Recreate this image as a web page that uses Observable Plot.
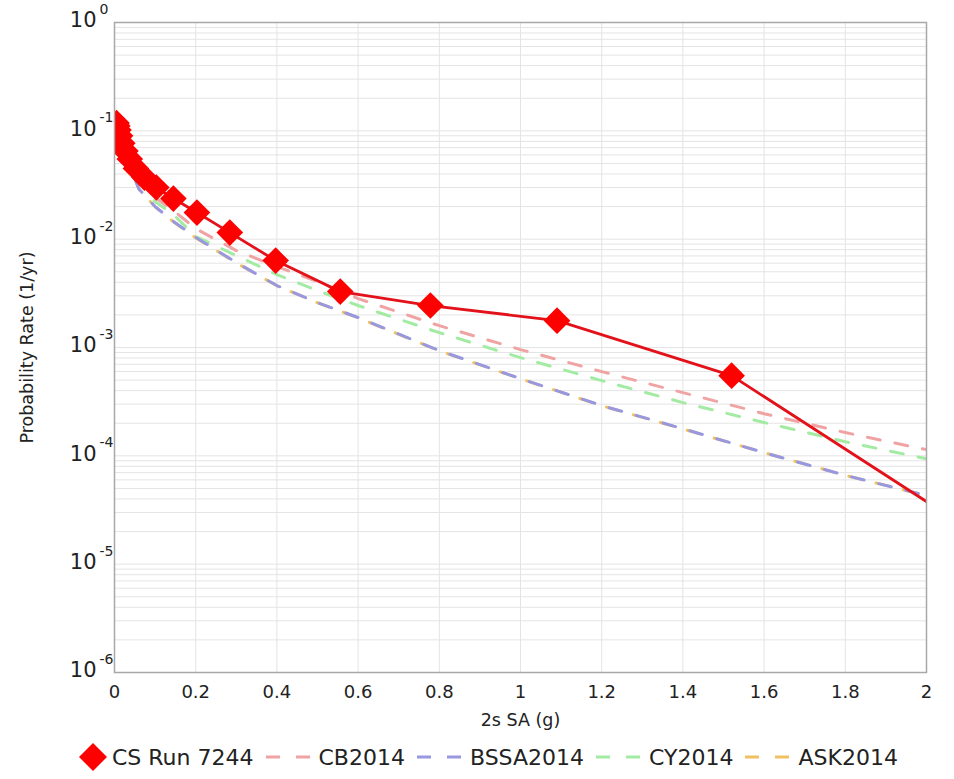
<!DOCTYPE html>
<html>
<head>
<meta charset="utf-8">
<script src="https://cdn.jsdelivr.net/npm/d3@7"></script>
<script src="https://cdn.jsdelivr.net/npm/@observablehq/plot@0.6"></script>
<style>
  body { margin: 0; background: #fff; font-family: "DejaVu Sans", sans-serif; }
  #legend { display: flex; align-items: center; height: 40px; padding-left: 79px; font-size: 22px; color: #222; }
  #legend .sw { display: block; }
</style>
</head>
<body>
<div id="chart"></div>
<div id="legend"></div>
<script>
// CyberShake run (IM levels, g) and annual rates
const csX = [0.005, 0.007, 0.0098, 0.0137, 0.0192, 0.0269, 0.0376, 0.0527, 0.0738, 0.103, 0.145, 0.203, 0.284, 0.397, 0.556, 0.778, 1.09, 1.52, 2.13];
const csY = [0.118, 0.111, 0.102, 0.090, 0.077, 0.065, 0.055, 0.045, 0.037, 0.030, 0.0237, 0.0176, 0.0115, 0.00634, 0.00328, 0.00244, 0.00177, 0.00055, 1.83e-5];

// GMPE curves
const gmX  = [0.005, 0.01, 0.02, 0.04, 0.06, 0.1, 0.145, 0.2, 0.3, 0.4, 0.5, 0.6, 0.8, 1.0, 1.2, 1.4, 1.6, 1.8, 2.0];
const cb2014   = [0.115, 0.105, 0.085, 0.055, 0.037, 0.0242, 0.0184, 0.0125, 0.00785, 0.00558, 0.00406, 0.00283, 0.00159, 0.000957, 0.000599, 0.000383, 0.000245, 0.000164, 0.000114];
const bssa2014 = [0.105, 0.095, 0.075, 0.045, 0.029, 0.0200, 0.0146, 0.0104, 0.00608, 0.00373, 0.0026, 0.00189, 0.000936, 0.000516, 0.000291, 0.000178, 0.000107, 6.6e-5, 4.3e-5];
const cy2014   = [0.11, 0.1, 0.08, 0.051, 0.034, 0.0222, 0.0169, 0.0106, 0.00706, 0.00471, 0.00335, 0.00244, 0.00137, 0.000807, 0.000494, 0.00031, 0.000203, 0.000135, 9.4e-5];
const ask2014  = [0.104, 0.094, 0.074, 0.045, 0.029, 0.0199, 0.0145, 0.0103, 0.00604, 0.00371, 0.00259, 0.00188, 0.000932, 0.000514, 0.00029, 0.000177, 0.000107, 6.6e-5, 4.3e-5];

// ticks
const xTicks = [0, 0.2, 0.4, 0.6, 0.8, 1, 1.2, 1.4, 1.6, 1.8, 2];
const yTicks = [1, 1e-1, 1e-2, 1e-3, 1e-4, 1e-5, 1e-6];
const yExp   = ["0", "-1", "-2", "-3", "-4", "-5", "-6"];
const yMinor = [];
for (let k = -6; k < 0; k++) for (let m = 1; m <= 9; m++) yMinor.push(m * Math.pow(10, k));

const series = [
  {name: "CS Run 7244", color: "#ff0000"},
  {name: "CB2014", color: "#f0a3a3", y: cb2014},
  {name: "BSSA2014", color: "#9898e0", y: bssa2014},
  {name: "CY2014", color: "#a3eba3", y: cy2014},
  {name: "ASK2014", color: "#f0c063", y: ask2014}
];

const csData = csX.map((x, i) => ({x, y: csY[i]}));
const gm = (arr) => gmX.map((x, i) => ({x, y: arr[i]}));
const fmtX = d3.format("~g");

const dash = (arr, color, offset = 0) => Plot.line(gm(arr), {x: "x", y: "y", stroke: color, strokeWidth: 3, strokeDasharray: "13,15", strokeDashoffset: offset, clip: true});

const chart = Plot.plot({
  width: 954,
  height: 737,
  marginLeft: 114,
  marginRight: 28,
  marginTop: 22,
  marginBottom: 65,
  style: {fontFamily: "DejaVu Sans, sans-serif", color: "#222", background: "#fff"},
  x: {domain: [0, 2], axis: null},
  y: {type: "log", domain: [1e-6, 1], axis: null},
  marks: [
    Plot.ruleY(yMinor, {y: d => d, stroke: "#e4e4e4", strokeWidth: 1}),
    Plot.ruleX(xTicks, {x: d => d, stroke: "#e4e4e4", strokeWidth: 1}),
    dash(ask2014, series[4].color, 3),
    dash(cy2014, series[3].color),
    dash(bssa2014, series[2].color),
    dash(cb2014, series[1].color),
    Plot.line(csData, {x: "x", y: "y", stroke: "#e3111a", strokeWidth: 2.8, clip: true}),
    Plot.dot(csData, {x: "x", y: "y", symbol: "diamond2", r: 12, fill: "#ff0000", stroke: "none", clip: true}),
    Plot.frame({stroke: "#a8a8a8", strokeWidth: 1.5}),
    Plot.text(xTicks, {x: d => d, text: d => fmtX(d), frameAnchor: "bottom", dy: 20, fontSize: 18, fill: "#222", lineAnchor: "middle"}),
    Plot.text(yTicks, {y: d => d, text: () => "10", frameAnchor: "left", dx: -18, dy: -2, textAnchor: "end", fontSize: 21, fill: "#222", lineAnchor: "middle"}),
    Plot.text(yTicks, {y: d => d, text: (d, i) => yExp[i], frameAnchor: "left", dx: -15, dy: -13, textAnchor: "start", fontSize: 14, fill: "#222", lineAnchor: "middle"}),
    Plot.text(["2s SA (g)"], {frameAnchor: "bottom", dy: 48, fontSize: 17.5, fill: "#222", lineAnchor: "middle"}),
    Plot.text(["Probability Rate (1/yr)"], {frameAnchor: "left", dx: -87, rotate: -90, textAnchor: "middle", fontSize: 17.5, fill: "#222", lineAnchor: "middle"})
  ]
});
document.getElementById("chart").appendChild(chart);

// legend
const lg = document.getElementById("legend");
series.forEach((s, i) => {
  const ns = "http://www.w3.org/2000/svg";
  const svg = document.createElementNS(ns, "svg");
  svg.classList.add("sw");
  if (i === 0) {
    svg.setAttribute("width", 28); svg.setAttribute("height", 28);
    const p = document.createElementNS(ns, "polygon");
    p.setAttribute("points", "14,0 28,14 14,28 0,14");
    p.setAttribute("fill", s.color);
    svg.appendChild(p);
    svg.style.marginRight = "5px";
  } else {
    svg.setAttribute("width", 44); svg.setAttribute("height", 10);
    svg.style.marginLeft = "12px"; svg.style.marginRight = "9px";
    [0, 30].forEach(x0 => {
      const r = document.createElementNS(ns, "rect");
      r.setAttribute("x", x0); r.setAttribute("y", 3.5); r.setAttribute("width", 14); r.setAttribute("height", 3);
      r.setAttribute("fill", s.color);
      svg.appendChild(r);
    });
  }
  lg.appendChild(svg);
  const t = document.createElement("span");
  t.textContent = s.name;
  lg.appendChild(t);
});
</script>
</body>
</html>
